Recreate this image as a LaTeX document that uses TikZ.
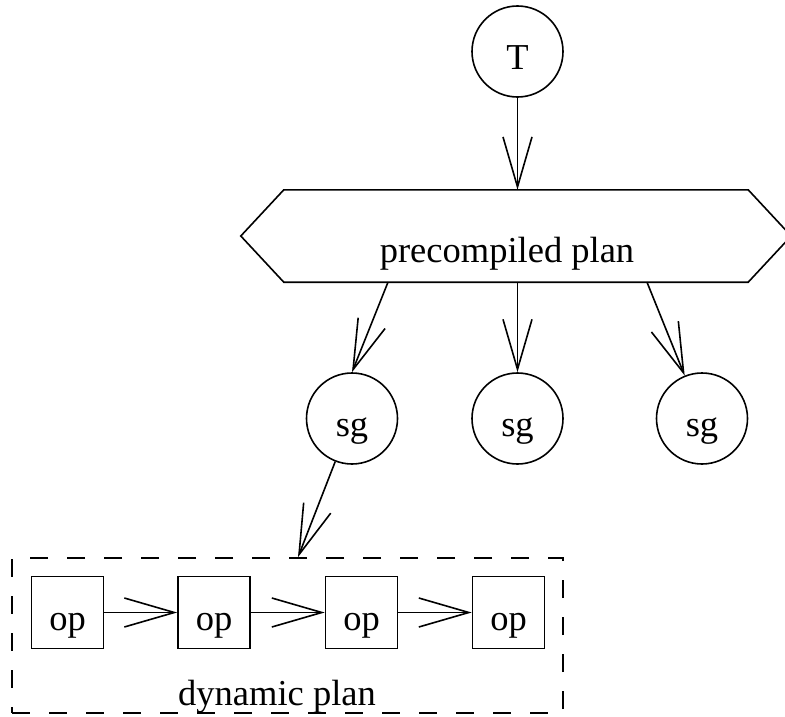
\documentclass[tikz,border=0pt]{standalone}
\usepackage{fontspec}
\setmainfont{Liberation Serif}
\usetikzlibrary{arrows.meta}

\tikzset{
  every node/.style={font=\fontsize{36.5}{40}\selectfont, inner sep=0pt},
  line/.style={line width=1.6pt, line join=miter},
  arr/.style={line, -{Straight Barb[length=50pt, width=29pt, line width=1.6pt]}},
  % text baseline sits about half an em below the shape centre
  lowtext/.style={text height=36pt, text depth=0pt},
  roundnode/.style={circle, draw, line width=1.6pt, minimum size=91pt, lowtext},
  opbox/.style={rectangle, draw, line width=1.6pt, minimum size=72pt, lowtext},
  planbox/.style={rectangle, draw, line width=1.6pt, dash pattern=on 18pt off 19pt}
}

\begin{document}
\begin{tikzpicture}[x=1pt, y=-1pt]
  \useasboundingbox (0,0) rectangle (785,717);
  \clip (0,0) rectangle (785,717);

  % root task
  \node[roundnode] (T) at (517.5,51.5) {T};

  % precompiled plan (hexagon drawn around an invisible frame)
  \node[minimum width=464pt, minimum height=92pt, text height=52pt, text depth=0pt] (pp) at (516,236) {\hspace*{-18pt}precompiled plan};
  \draw[line] (pp.north west) -- (pp.north east) -- ([xshift=43pt]pp.east)
    -- (pp.south east) -- (pp.south west) -- ([xshift=-43pt]pp.west) -- cycle;

  % subgoals
  \node[roundnode] (sg1) at (352,418.5) {sg};
  \node[roundnode] (sg2) at (517.5,418.5) {sg};
  \node[roundnode] (sg3) at (702,418.5) {sg};

  % dynamic plan container and its operators
  \node[planbox, minimum width=551pt, minimum height=155pt] (dyn) at (287.5,635.5) {};
  \node[anchor=base] (dlab) at (277,705) {dynamic plan};
  \node[opbox] (op1) at (67.5,612.5) {op};
  \node[opbox] (op2) at (214,612.5) {op};
  \node[opbox] (op3) at (361.5,612.5) {op};
  \node[opbox] (op4) at (508.5,612.5) {op};

  % connectors
  \draw[arr] (T.south) -- (T.south |- pp.north);
  \draw[arr] ([xshift=-128pt]pp.south) -- (sg1.north);
  \draw[arr] (pp.south -| sg2) -- (sg2.north);
  \draw[arr] ([xshift=131pt]pp.south) -- (sg3);
  \draw[arr] (sg1) -- ([xshift=10.5pt]dyn.north);
  \draw[arr] (op1) -- (op2);
  \draw[arr] (op2) -- (op3);
  \draw[arr] (op3) -- (op4);
\end{tikzpicture}
\end{document}
